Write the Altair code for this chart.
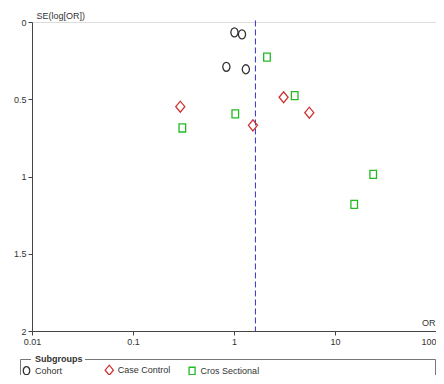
import altair as alt
import pandas as pd

# ---- data ----
groups = ["Cohort"] * 4 + ["Case Control"] * 4 + ["Cros Sectional"] * 6
odds_ratio = [1.01, 1.20, 0.84, 1.31,
              0.294, 3.10, 5.57, 1.54,
              2.12, 3.99, 1.03, 0.308, 23.9, 15.5]
se_log_or = [0.067, 0.080, 0.290, 0.306,
             0.548, 0.487, 0.587, 0.669,
             0.227, 0.477, 0.595, 0.686, 0.986, 1.180]
pooled_or = [1.63]
group_order = ["Cohort", "Case Control", "Cros Sectional"]
x_ticks = [0.01, 0.1, 1, 10, 100]
y_ticks = [0, 0.5, 1, 1.5, 2]

df = pd.DataFrame({"group": groups, "or": odds_ratio, "se": se_log_or})
df_pool = pd.DataFrame({"or": pooled_or, "top": [-0.01], "bottom": [2.0]})
one = pd.DataFrame({"a": [0]})

FONT = "Liberation Sans"
AX = "#444444"

shapes = [
    "M0,-0.82A0.65,0.82 0 1,1 0,0.82A0.65,0.82 0 1,1 0,-0.82Z",
    "M-0.82,0L0,-1L0.82,0L0,1Z",
    "M-0.6,-0.73L0.6,-0.73L0.6,0.73L-0.6,0.73Z",
]
colors = ["#333333", "#cc3333", "#22bb22"]

xscale = alt.Scale(type="log", domain=[0.01, 100])
yscale = alt.Scale(domain=[0, 2], reverse=True, nice=False)

xaxis = alt.Axis(values=x_ticks, labelExpr="'' + datum.value", title="OR",
                 titleX=403, titleY=-9, titleAlign="right", titleBaseline="middle",
                 titleFontWeight="normal", titleFontSize=9, titleFont=FONT, titleColor="#333",
                 labelFont=FONT, labelFontSize=9, labelColor="#333", labelFlush=False,
                 labelAlign=alt.expr("datum.value >= 100 ? 'right' : 'center'"),
                 labelOverlap=False, labelPadding=2, tickSize=4, tickColor=AX, domainColor=AX,
                 grid=False)
yaxis = alt.Axis(values=y_ticks, labelExpr="'' + datum.value", title="SE(log[OR])",
                 titleAngle=0, titleX=4, titleY=-7, titleAlign="left", titleBaseline="middle",
                 titleFontWeight="normal", titleFontSize=9, titleFont=FONT, titleColor="#333",
                 labelFont=FONT, labelFontSize=9, labelColor="#333", labelFlush=False,
                 labelOverlap=False, labelPadding=2, tickSize=4, tickColor=AX, domainColor=AX,
                 grid=False)

legend = alt.Legend(orient="none", legendX=-11.5, legendY=342, direction="horizontal",
                    columns=3, gridAlign="all", columnPadding=7.8, padding=0,
                    labelFont=FONT, labelFontSize=9, labelColor="#333", labelOffset=2.5,
                    symbolSize=100, symbolStrokeWidth=1.3)

points = alt.Chart(df).mark_point(filled=False, size=121, strokeWidth=1.3, opacity=1).encode(
    x=alt.X("or:Q", scale=xscale, axis=xaxis),
    y=alt.Y("se:Q", scale=yscale, axis=yaxis),
    shape=alt.Shape("group:N", scale=alt.Scale(domain=group_order, range=shapes),
                    legend=legend, title=None),
    color=alt.Color("group:N", scale=alt.Scale(domain=group_order, range=colors),
                    legend=legend, title=None),
)

pool = alt.Chart(df_pool).mark_rule(color="#3333cc", strokeDash=[6, 3], strokeWidth=1).encode(
    x="or:Q", y="top:Q", y2="bottom:Q"
)

def seg(x1, x2, y1, y2):
    return alt.Chart(one).mark_rule(color="#777777", strokeWidth=1).encode(
        x=alt.value(x1), x2=alt.value(x2), y=alt.value(y1), y2=alt.value(y2))

box = [
    seg(-11.5, -1, 337.5, 337.5),
    seg(53, 403.5, 337.5, 337.5),
    seg(-11.5, -11.5, 337.5, 420),
    seg(403.5, 403.5, 337.5, 420),
]

box_title = alt.Chart(one).mark_text(text="Subgroups", font=FONT, fontSize=9, fontWeight="bold",
                                     color="#333", align="left", baseline="middle").encode(
    x=alt.value(3), y=alt.value(337))

chart = alt.layer(pool, points, *box, box_title).properties(
    width=404, height=309,
    autosize=alt.AutoSizeParams(type="none"),
    padding={"left": 24, "top": 14, "right": 0, "bottom": 44},
).configure_view(stroke=None).configure(background="white")

chart.save("out.html", embed_options={"renderer": "svg", "actions": False})
